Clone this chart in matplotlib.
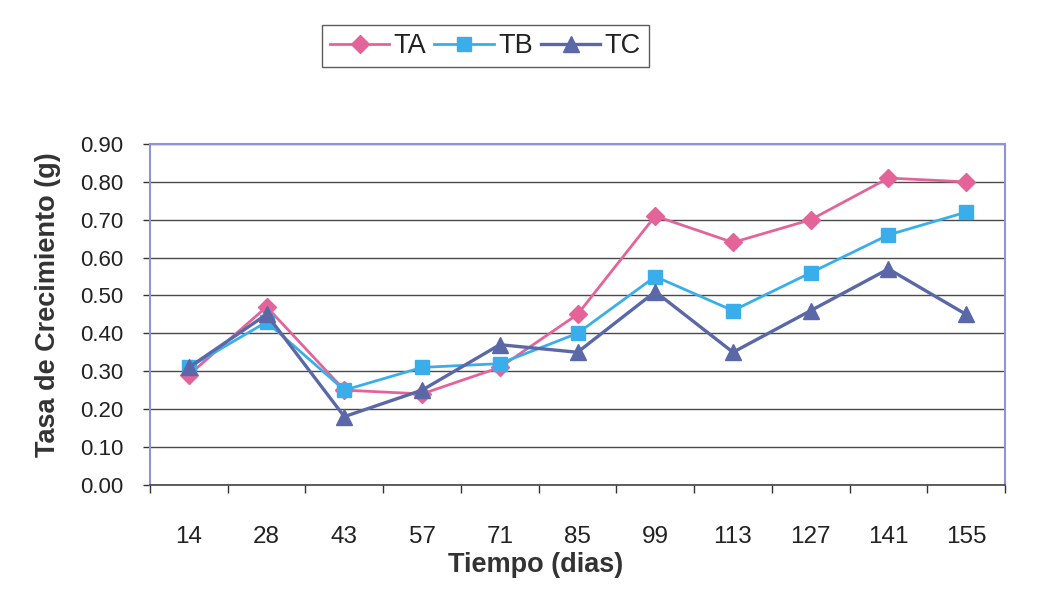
import matplotlib
matplotlib.use('Agg')
import matplotlib.pyplot as plt
from matplotlib.ticker import MultipleLocator, FixedLocator

# data
dias = ['14', '28', '43', '57', '71', '85', '99', '113', '127', '141', '155']
ta = [0.29, 0.47, 0.25, 0.24, 0.31, 0.45, 0.71, 0.64, 0.70, 0.81, 0.80]
tb = [0.31, 0.43, 0.25, 0.31, 0.32, 0.40, 0.55, 0.46, 0.56, 0.66, 0.72]
tc = [0.31, 0.45, 0.18, 0.25, 0.37, 0.35, 0.51, 0.35, 0.46, 0.57, 0.45]

PINK = '#e4649a'
SKY = '#3aaeea'
NAVY = '#5a68a8'
GRID = '#4a4a4a'
FRAME = '#8f94d6'

plt.rcParams['font.family'] = ['Liberation Sans', 'DejaVu Sans']

fig = plt.figure(figsize=(10.39, 6.0), dpi=100)
ax = fig.add_axes([0.1444, 0.192, 0.8229, 0.568])

x = range(len(dias))
ax.plot(x, ta, color=PINK, lw=2.0, marker='D', ms=9, label='TA', zorder=3)
ax.plot(x, tb, color=SKY, lw=2.0, marker='s', ms=10, label='TB', zorder=4)
ax.plot(x, tc, color=NAVY, lw=2.4, marker='^', ms=11, label='TC', zorder=5)

ax.set_xlim(-0.5, len(dias) - 0.5)
ax.set_ylim(0, 0.9)
ax.yaxis.set_major_locator(MultipleLocator(0.1))
ax.yaxis.set_major_formatter(matplotlib.ticker.FormatStrFormatter('%.2f'))
ax.grid(axis='y', color=GRID, lw=1.0)
ax.set_axisbelow(True)

# category labels centred, tick marks on the boundaries (Excel style)
ax.set_xticks(list(x))
ax.set_xticklabels(dias)
ax.tick_params(axis='x', which='major', length=0, pad=30, labelsize=17.5, labelcolor='#222222')
ax.xaxis.set_minor_locator(FixedLocator([i - 0.5 for i in range(len(dias) + 1)]))
ax.tick_params(axis='x', which='minor', length=6, width=1, color='#333333', direction='out')
ax.tick_params(axis='y', length=5, width=1, color='#333333', labelsize=16, labelcolor='#222222', pad=14)

for side in ['top', 'right', 'left']:
    ax.spines[side].set_color(FRAME)
    ax.spines[side].set_linewidth(1.5)
ax.spines['bottom'].set_color('#444444')
ax.spines['bottom'].set_linewidth(1.2)

ax.set_xlabel('Tiempo (dias)', fontsize=19.5, fontweight='bold', color='#333333', va='center')
ax.set_ylabel('Tasa de Crecimiento (g)', fontsize=19.5, fontweight='bold', color='#333333', va='center')
ax.xaxis.set_label_coords(0.451, -0.235)
ax.yaxis.set_label_coords(-0.119, 0.528)

leg = fig.legend(loc='center', bbox_to_anchor=(0.467, 0.923), ncol=3, fontsize=19.5,
                 frameon=True, fancybox=False, edgecolor='#333333', handlelength=2.2,
                 columnspacing=0.3, handletextpad=0.15, borderpad=0.3)
leg.get_frame().set_linewidth(1.0)
for t in leg.get_texts():
    t.set_color('#222222')

fig.savefig('out.png', dpi=100, facecolor='white')
plt.close(fig)
